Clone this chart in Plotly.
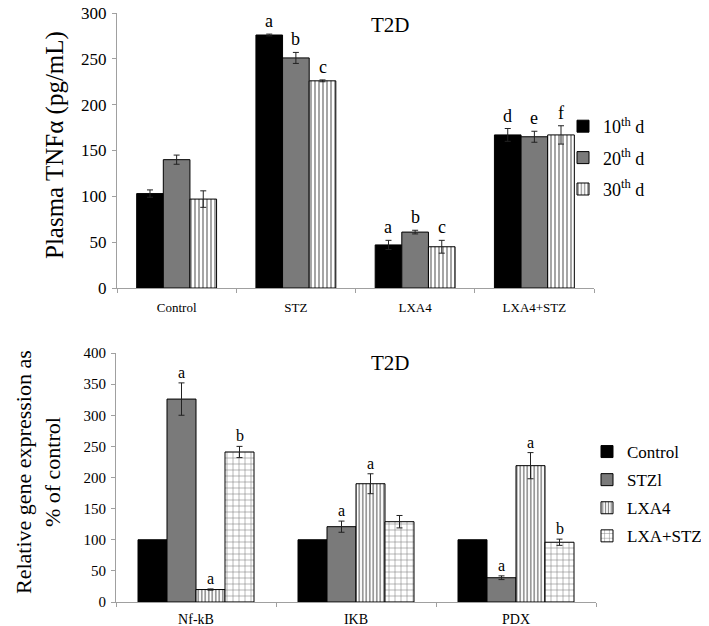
import plotly.graph_objects as go

# ---------------- data: top chart (Plasma TNFα) ----------------
top_categories = ["Control", "STZ", "LXA4", "LXA4+STZ"]
top_series = ["10<sup>th</sup> d", "20<sup>th</sup> d", "30<sup>th</sup> d"]
top_d10 = [103, 276, 47, 167]
top_d20 = [140, 251, 61, 165]
top_d30 = [97, 226, 45, 167]
top_d10_err = [4, 1, 5, 7]
top_d20_err = [5, 6, 2, 6]
top_d30_err = [9, 1, 7, 10]
top_d10_letters = ["", "a", "a", "d"]
top_d20_letters = ["", "b", "b", "e"]
top_d30_letters = ["", "c", "c", "f"]

# ---------------- data: bottom chart (gene expression) ----------------
bot_categories = ["Nf-kB", "IKB", "PDX"]
bot_series = ["Control", "STZl", "LXA4", "LXA+STZ"]
bot_control = [100, 100, 100]
bot_stz = [326, 121, 39]
bot_lxa4 = [20, 190, 219]
bot_lxastz = [241, 129, 96]
bot_control_err = [0, 0, 0]
bot_stz_err = [26, 9, 3]
bot_lxa4_err = [1, 16, 21]
bot_lxastz_err = [9, 10, 5]
bot_stz_letters = ["a", "a", "a"]
bot_lxa4_letters = ["a", "a", "a"]
bot_lxastz_letters = ["b", "", "b"]
bot_control_letters = ["", "", ""]

FONT = "Liberation Serif"
GRAY = "#7a7a7a"
AXIS = "#a0a0a0"
TOP_GAP = 0.33
BOT_GAP = 0.275
W, H = 709, 626
PAGE_OFF = 8  # page body margin offset


def px(x):
    return (x - PAGE_OFF) / W


def py(y):
    return 1 - (y - PAGE_OFF) / H


fig = go.Figure()

top_vals = [top_d10, top_d20, top_d30]
top_errs = [top_d10_err, top_d20_err, top_d30_err]
top_lets = [top_d10_letters, top_d20_letters, top_d30_letters]
top_styles = [
    dict(color="black", pattern=dict(shape="")),
    dict(color=GRAY, pattern=dict(shape="")),
    dict(color="white", pattern=dict(shape="|", fgcolor="black", bgcolor="white",
                                      size=4, solidity=0.35, fillmode="overlay")),
]
nt = len(top_series)
tw = (1 - TOP_GAP) / nt
for i, name in enumerate(top_series):
    fig.add_trace(go.Bar(
        x=top_categories, y=top_vals[i], name=name,
        width=tw, offset=-(1 - TOP_GAP) / 2 + i * tw,
        marker=dict(line=dict(color="black", width=1), **top_styles[i]),
        error_y=dict(type="data", array=top_errs[i], color="#222", thickness=1, width=3),
        xaxis="x", yaxis="y", legend="legend", legendgroup="t%d" % i,
    ))

bot_vals = [bot_control, bot_stz, bot_lxa4, bot_lxastz]
bot_errs = [bot_control_err, bot_stz_err, bot_lxa4_err, bot_lxastz_err]
bot_lets = [bot_control_letters, bot_stz_letters, bot_lxa4_letters, bot_lxastz_letters]
bot_styles = [
    dict(color="black", pattern=dict(shape="")),
    dict(color=GRAY, pattern=dict(shape="")),
    dict(color="white", pattern=dict(shape="|", fgcolor="black", bgcolor="white",
                                      size=3.5, solidity=0.4, fillmode="overlay")),
    dict(color="white", pattern=dict(shape="+", fgcolor="black", bgcolor="white",
                                      size=6, solidity=0.18, fillmode="overlay")),
]
nb = len(bot_series)
bw = (1 - BOT_GAP) / nb
for i, name in enumerate(bot_series):
    fig.add_trace(go.Bar(
        x=bot_categories, y=bot_vals[i], name=name,
        width=bw, offset=-(1 - BOT_GAP) / 2 + i * bw,
        marker=dict(line=dict(color="black", width=1), **bot_styles[i]),
        error_y=dict(type="data", array=bot_errs[i], color="#222", thickness=1, width=3,
                     visible=any(e > 0 for e in bot_errs[i])),
        xaxis="x2", yaxis="y2", legend="legend2", legendgroup="b%d" % i,
    ))

# letter annotations above error bars
annotations = []
for i in range(nt):
    off = (i - (nt - 1) / 2) * tw
    for j in range(len(top_categories)):
        if top_lets[i][j]:
            annotations.append(dict(
                x=j + off, y=top_vals[i][j] + top_errs[i][j], xref="x", yref="y",
                text=top_lets[i][j], showarrow=False, xanchor="center", yanchor="bottom", yshift=1,
                font=dict(family=FONT, size=18, color="black")))
for i in range(nb):
    off = (i - (nb - 1) / 2) * bw
    for j in range(len(bot_categories)):
        if bot_lets[i][j]:
            annotations.append(dict(
                x=j + off, y=bot_vals[i][j] + bot_errs[i][j], xref="x2", yref="y2",
                text=bot_lets[i][j], showarrow=False, xanchor="center", yanchor="bottom", yshift=0,
                font=dict(family=FONT, size=16, color="black")))

# titles
annotations += [
    dict(x=px(390), y=py(25), xref="paper", yref="paper", text="T2D", showarrow=False,
         xanchor="center", yanchor="middle", font=dict(family=FONT, size=21, color="black")),
    dict(x=px(390), y=py(363), xref="paper", yref="paper", text="T2D", showarrow=False,
         xanchor="center", yanchor="middle", font=dict(family=FONT, size=21, color="black")),
    dict(x=px(55), y=py(145), xref="paper", yref="paper", text="Plasma TNFα (pg/mL)",
         textangle=-90, showarrow=False, xanchor="center", yanchor="middle",
         font=dict(family=FONT, size=25, color="black")),
    dict(x=px(38), y=py(472), xref="paper", yref="paper",
         text="Relative gene expression as<br>% of control",
         textangle=-90, showarrow=False, xanchor="center", yanchor="middle",
         font=dict(family=FONT, size=22, color="black")),
]

axis_common = dict(showline=True, linecolor=AXIS, linewidth=1, ticks="outside",
                   tickcolor=AXIS, ticklen=4, showgrid=False, zeroline=False,
                   automargin=False, ticklabeloverflow="allow")

fig.update_layout(
    width=W, height=H,
    margin=dict(l=0, r=0, t=0, b=0, autoexpand=False),
    plot_bgcolor="white", paper_bgcolor="white",
    barmode="overlay",
    font=dict(family=FONT, color="black"),
    xaxis=dict(domain=[px(117), px(594)], anchor="y", type="category",
               tickson="boundaries", range=[-0.5, 3.5], ticklabelstandoff=7,
               tickfont=dict(family=FONT, size=13), **axis_common),
    yaxis=dict(domain=[py(288), py(13)], anchor="x", range=[0, 300],
               tickvals=[0, 50, 100, 150, 200, 250, 300], ticklabelstandoff=2,
               tickfont=dict(family=FONT, size=17), **axis_common),
    xaxis2=dict(domain=[px(116), px(596)], anchor="y2", type="category",
                tickson="boundaries", range=[-0.5, 2.5], ticklabelstandoff=4,
                tickfont=dict(family=FONT, size=14), **axis_common),
    yaxis2=dict(domain=[py(602), py(353)], anchor="x2", range=[0, 400],
                tickvals=[0, 50, 100, 150, 200, 250, 300, 350, 400], ticklabelstandoff=2,
                tickfont=dict(family=FONT, size=15), **axis_common),
    legend=dict(x=px(563), y=py(108), xanchor="left", yanchor="top",
                font=dict(family=FONT, size=18), tracegroupgap=5, itemwidth=30,
                traceorder="grouped", bgcolor="rgba(0,0,0,0)"),
    legend2=dict(x=px(587), y=py(434), xanchor="left", yanchor="top",
                 font=dict(family=FONT, size=17), tracegroupgap=3, itemwidth=30,
                 traceorder="grouped", bgcolor="rgba(0,0,0,0)"),
    annotations=annotations,
    showlegend=True,
)

fig.write_html("out.html")
